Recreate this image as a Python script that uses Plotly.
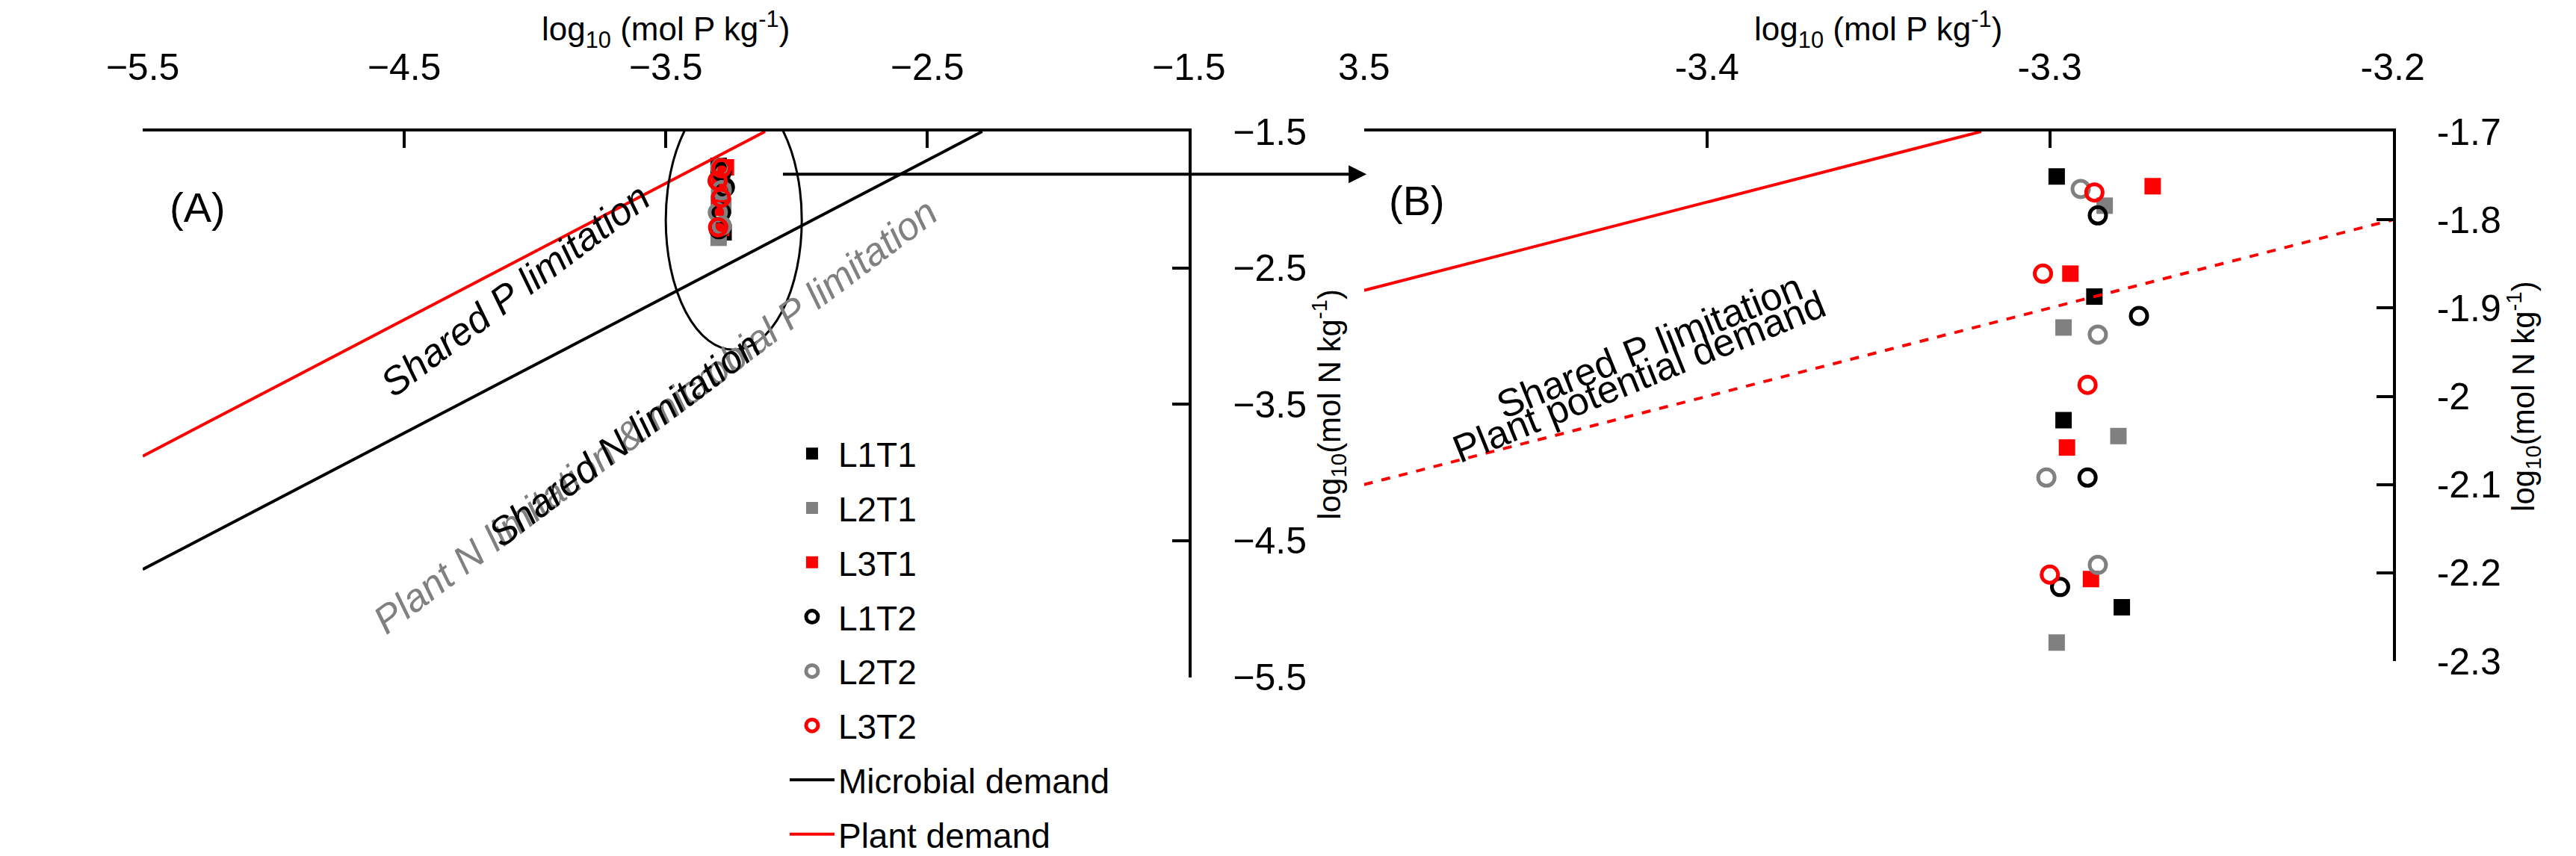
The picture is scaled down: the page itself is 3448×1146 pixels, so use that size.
import plotly.graph_objects as go

series = ["L1T1", "L2T1", "L3T1", "L1T2", "L2T2", "L3T2"]
px = {
    "L1T1": [-3.298, -3.287, -3.296, -3.279],
    "L2T1": [-3.284, -3.296, -3.280, -3.298],
    "L3T1": [-3.270, -3.294, -3.295, -3.288],
    "L1T2": [-3.286, -3.274, -3.289, -3.297],
    "L2T2": [-3.291, -3.286, -3.301, -3.286],
    "L3T2": [-3.287, -3.302, -3.289, -3.300],
}
ny = {
    "L1T1": [-1.751, -1.887, -2.027, -2.239],
    "L2T1": [-1.784, -1.922, -2.045, -2.279],
    "L3T1": [-1.762, -1.861, -2.058, -2.207],
    "L1T2": [-1.795, -1.909, -2.092, -2.216],
    "L2T2": [-1.765, -1.930, -2.092, -2.191],
    "L3T2": [-1.769, -1.861, -1.987, -2.202],
}
colors = {"L1T1": "black", "L2T1": "#808080", "L3T1": "red",
          "L1T2": "black", "L2T2": "#808080", "L3T2": "red"}
# demand lines (log N = log P + intercept)
micro_x = [-5.5, -2.29]; micro_y = [-4.71, -1.5]
plant_x = [-5.5, -3.12]; plant_y = [-3.88, -1.5]
plantB_x = [-3.5, -3.32]; plantB_y = [-1.88, -1.70]
potB_x = [-3.5, -3.2]; potB_y = [-2.10, -1.80]

A_xticks = [-5.5, -4.5, -3.5, -2.5, -1.5]
A_yticks = [-1.5, -2.5, -3.5, -4.5, -5.5]
B_xticks = [-3.5, -3.4, -3.3, -3.2]
B_xtext = ["3.5", "-3.4", "-3.3", "-3.2"]
B_yticks = [-1.7, -1.8, -1.9, -2.0, -2.1, -2.2, -2.3]
B_ytext = ["-1.7", "-1.8", "-1.9", "-2", "-2.1", "-2.2", "-2.3"]

F = "Liberation Sans Narrow, Liberation Sans, Arial"
fig = go.Figure()
for i, s in enumerate(series):
    sym = "square" if "T1" in s else "circle-open"
    mk = dict(symbol=sym, color=colors[s], size=22,
              line=dict(width=5, color=colors[s]) if "T2" in s else dict(width=0))
    fig.add_trace(go.Scatter(x=px[s], y=ny[s], mode="markers", marker=mk, name=s,
                             legendgroup="g%d" % i, xaxis="x", yaxis="y"))
    fig.add_trace(go.Scatter(x=px[s], y=ny[s], mode="markers", marker=mk, name=s,
                             showlegend=False, xaxis="x2", yaxis="y2"))
fig.add_trace(go.Scatter(x=micro_x, y=micro_y, mode="lines", line=dict(color="black", width=4),
                         name="Microbial demand", legendgroup="g6", xaxis="x", yaxis="y"))
fig.add_trace(go.Scatter(x=plant_x, y=plant_y, mode="lines", line=dict(color="red", width=4),
                         name="Plant demand", legendgroup="g7", xaxis="x", yaxis="y"))
fig.add_trace(go.Scatter(x=plantB_x, y=plantB_y, mode="lines", line=dict(color="red", width=4),
                         showlegend=False, xaxis="x2", yaxis="y2"))
fig.add_trace(go.Scatter(x=potB_x, y=potB_y, mode="lines", line=dict(color="red", width=4, dash="dash"),
                         showlegend=False, xaxis="x2", yaxis="y2"))

ax = dict(showgrid=False, zeroline=False, showline=True, linecolor="black", linewidth=4,
          ticks="inside", ticklen=22, tickwidth=4, tickcolor="black", ticklabelstandoff=45,
          tickfont=dict(family=F, size=50, color="black"))
fig.update_layout(
    width=3448, height=1146, paper_bgcolor="white", plot_bgcolor="white",
    margin=dict(l=0, r=0, t=0, b=0), font=dict(family=F, color="black"),
    xaxis=dict(ax, domain=[0.040, 0.458], range=[-5.5, -1.5], side="top", anchor="y",
               tickvals=A_xticks,
               title=dict(text="log<sub>10</sub> (mol P kg<sup>-1</sup>)", font=dict(size=44), standoff=22)),
    yaxis=dict(ax, domain=[0.024, 0.842], range=[-5.5, -1.5], side="right", anchor="x",
               tickvals=A_yticks,
               title=dict(text="log<sub>10</sub>(mol N kg<sup>-1</sup>)", font=dict(size=42), standoff=15)),
    xaxis2=dict(ax, domain=[0.528, 0.939], range=[-3.5, -3.2], side="top", anchor="y2",
                tickvals=B_xticks, ticktext=B_xtext,
                title=dict(text="log<sub>10</sub> (mol P kg<sup>-1</sup>)", font=dict(size=44), standoff=22)),
    yaxis2=dict(ax, domain=[0.048, 0.842], range=[-2.3, -1.7], side="right", anchor="x2",
                tickvals=B_yticks, ticktext=B_ytext,
                title=dict(text="log<sub>10</sub>(mol N kg<sup>-1</sup>)", font=dict(size=42), standoff=15)),
    legend=dict(x=0.297, y=0.40, xanchor="left", yanchor="top", bgcolor="rgba(0,0,0,0)",
                font=dict(family=F, size=46, color="black"), itemwidth=60, tracegroupgap=10),
    showlegend=True,
)
fig.add_shape(type="circle", xref="x", yref="y", x0=-3.5, x1=-2.98, y0=-3.1, y1=-1.2,
              line=dict(color="black", width=3))
fig.add_annotation(xref="paper", yref="paper", x=0.529, y=0.778, ax=-(0.529 - 0.302) * 3448, ay=0,
                   showarrow=True, arrowhead=2, arrowsize=1.2,
                   arrowwidth=4, arrowcolor="black", text="")

def txt(x, y, t, ang=0, size=50, color="black", italic=False):
    fig.add_annotation(xref="paper", yref="paper", x=x, y=y, text=t,
                       textangle=ang, showarrow=False,
                       font=dict(family=F, size=size, color=color,
                                 style="italic" if italic else "normal"))

txt(0.050, 0.766, "(A)", size=56)
txt(0.549, 0.776, "(B)", size=56)
txt(0.131, 0.605, "Shared P limitation", -37, 52, italic=True)
txt(0.128, 0.415, "Plant N limitation &amp; microbial P limitation", -37, 52, "#808080", True)
txt(0.174, 0.204, "Shared N limitation", -37, 52, italic=True)
txt(0.642, 0.521, "Shared P limitation", -22, 52)
txt(0.638, 0.330, "Plant potential demand", -22, 52)

fig.write_html("out.html")
